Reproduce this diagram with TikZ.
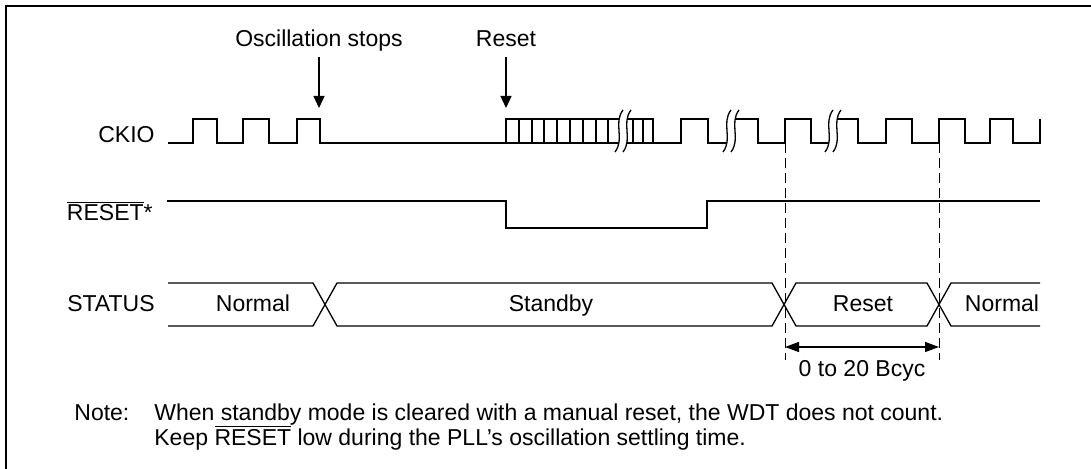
\documentclass[tikz,border=0pt]{standalone}
\usepackage{fontspec}
\setmainfont{Liberation Sans}
\usetikzlibrary{arrows.meta,positioning}

\tikzset{
  wave/.style={line width=0.65pt, line join=miter},
  lbl/.style={anchor=base east, inner sep=0pt},
  evt/.style={anchor=south, text depth=0.25em, inner sep=2.5pt},
  bustxt/.style={text height=0.72em, text depth=0pt, inner sep=0pt},
  notetxt/.style={anchor=base west, inner sep=0pt},
  marker/.style={line width=0.65pt, -{Triangle[length=6pt,width=5.5pt]}},
  dimline/.style={line width=0.65pt, {Triangle[length=7pt,width=5pt]}-{Triangle[length=7pt,width=5pt]}},
  guide/.style={line width=0.5pt, dash pattern=on 5pt off 2.5pt},
  brk/.pic={
    \fill[white] (-8,21) .. controls (2,8) and (-10,-8) .. (0,-21)
      -- (8,-21) .. controls (-2,-8) and (10,8) .. (0,21) -- cycle;
    \draw[wave] (-8,21) .. controls (2,8) and (-10,-8) .. (0,-21);
    \draw[wave] (0,21) .. controls (10,8) and (-2,-8) .. (8,-21);
  }
}

\begin{document}
\begin{tikzpicture}[x=0.5pt, y=-0.5pt, font=\fontsize{11.5}{14}\selectfont]
    \useasboundingbox (0,0) rectangle (1091,469);
    % frame
    \draw[wave] (1091,6) -- (6,6) -- (6,469);

    % events
    \node[evt] (oscstop) at (319,57) {Oscillation stops};
    \node[evt] (rstev) at (506,57) {Reset};
    \coordinate (oscstoptip) at (319,108);
    \coordinate (rstevtip) at (506,108);
    \draw[marker] (oscstop) -- (oscstoptip);
    \draw[marker] (rstev) -- (rstevtip);

    % signal names
    \node[lbl] (ckio) at (155,143) {CKIO};
    \node[lbl] (rst) at (153,221) {$\overline{\mbox{RESET}}$*};
    \node[lbl] (status) at (155,312) {STATUS};

    % CKIO
    \draw[wave] (168,143) -| (193,119) -| (217,143) -| (243,119) -| (269,143)
        -| (297,119) -| (320,143) -- (653,143) -| (681,119) -| (708,143) -- (731,143);
    \draw[wave] (506,143) |- (653,119) -- (653,143);
    \foreach \x in {519,532,544,557,570,583,596,608,633,643}
        \draw[wave] (\x,119) -- (\x,143);
    \draw[wave] (731,119) -| (758,143) -| (785,119) -| (811,143) -- (833,143);
    \draw[wave] (833,119) -| (858,143) -| (886,119) -| (912,143) -| (939,119)
        -| (965,143) -| (990,119) -| (1013,143) -| (1040,119);
    \pic at (623,131) {brk};
    \pic at (731,131) {brk};
    \pic at (833,131) {brk};

    % RESET
    \draw[wave] (167,201) -| (506,228) -| (707,201) -- (1040,201);

    % STATUS
    \draw[wave] (168,283) -- (313,283) -- (337,326) -- (772,326) -- (796,283)
        -- (927,283) -- (951,326) -- (1040,326);
    \draw[wave] (168,326) -- (313,326) -- (337,283) -- (772,283) -- (796,326)
        -- (927,326) -- (951,283) -- (1040,283);
    \node[bustxt] (stnormal) at (253,304.5) {Normal};
    \node[bustxt] (ststandby) at (551,304.5) {Standby};
    \node[bustxt] (streset) at (863,304.5) {Reset};
    \node[bustxt] (stnormalb) at (1002,304.5) {Normal};

    % reset period
    \draw[guide] (785,143) -- (785,360);
    \draw[guide] (939,143) -- (939,360);
    \coordinate (diml) at (785,347);
    \coordinate (dimr) at (939,347);
    \draw[dimline] (diml) -- (dimr) node[midway, below=3pt] (dimtxt) {0 to 20 Bcyc};

    % note
    \node[notetxt] (note) at (74,421) {Note:};
    \node[notetxt] (notea) at (154,421) {When standby mode is cleared with a manual reset, the WDT does not count.};
    \node[notetxt] (noteb) at (154,445) {Keep $\overline{\mbox{RESET}}$ low during the PLL’s oscillation settling time.};
\end{tikzpicture}
\end{document}
